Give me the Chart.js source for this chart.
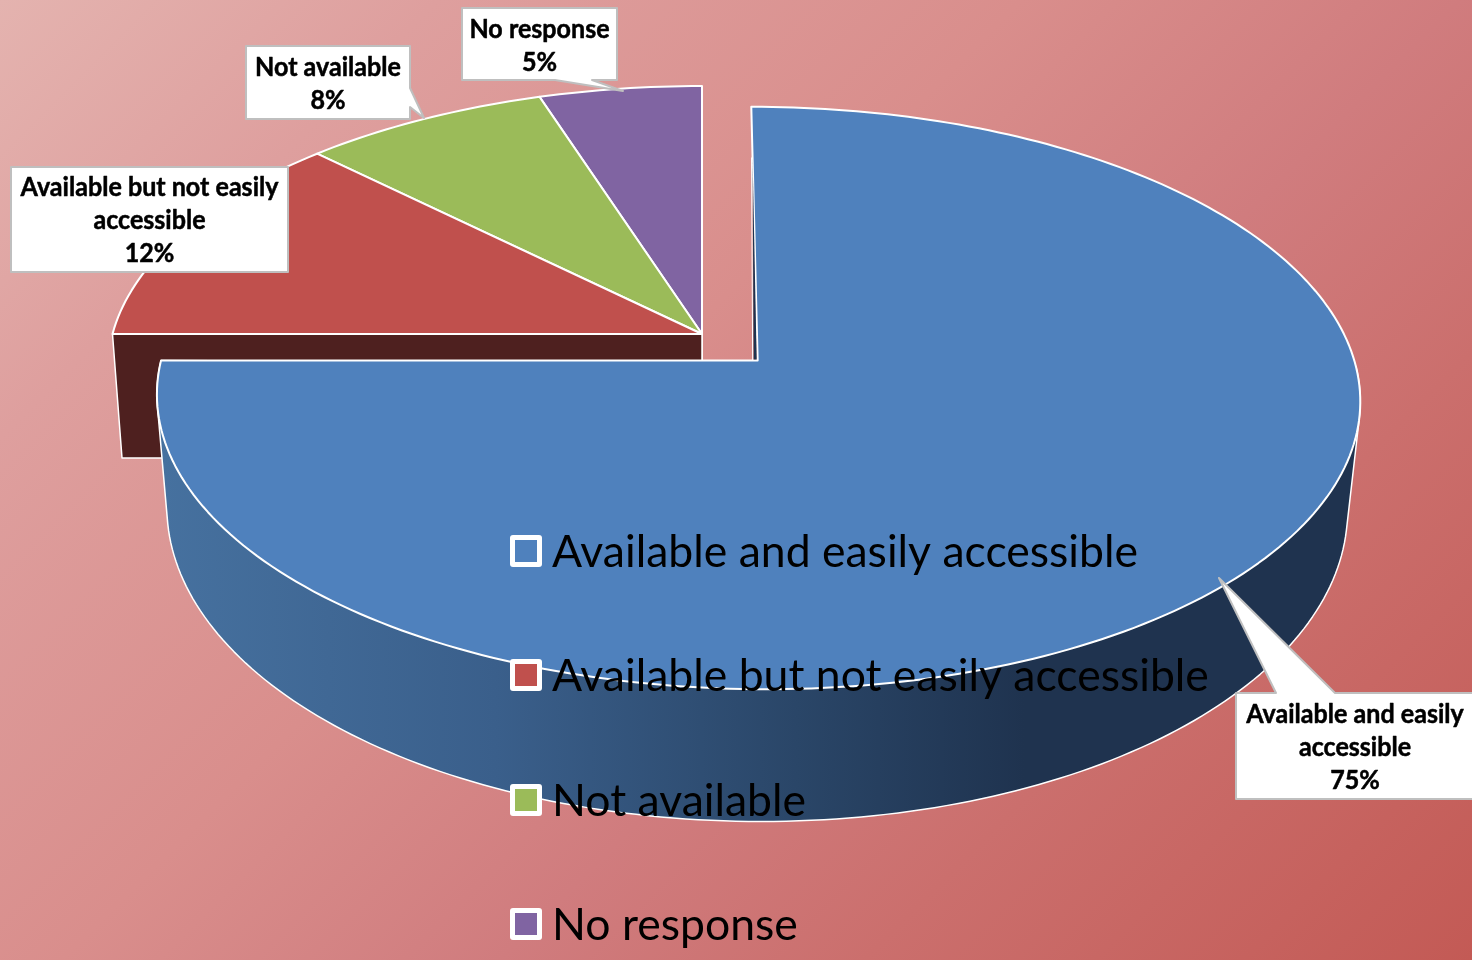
<!DOCTYPE html>
<html><head><meta charset="utf-8">
<style>html,body{margin:0;padding:0;background:#d98e8c;overflow:hidden}canvas{display:block}</style>
<script src="https://cdn.jsdelivr.net/npm/chart.js@4"></script>
</head><body>
<canvas id="c" width="1472" height="960"></canvas>
<script>
const categories = ['Available and easily accessible','Available but not easily accessible','Not available','No response'];
const shares = [75,12.4,7.6,5];
const sliceColors = ['#4f81bd','#c0504d','#9bbb59','#8064a2'];
const sideColors = ['#1f334f','#4e201f','#3e4b24','#332840'];
const explode = [200,0,0,0];

// perspective view of the pie plane: top face and bottom faces
const topFace = {x:702,y:334,bx:589.5,ay:279.6,c:-0.1276};
const lowFace = {x:702,y:458,bx:580,ay:307,c:-0.07};
const lowFaceFront = {x:702,y:458,bx:585,ay:307,c:-0.07};
function project(f,u,v){const d=1+f.c*v;return [f.x+f.bx*u/d,f.y+f.ay*v/d];}

function rim(el,f,from,to){
  const R=el.outerRadius,off=(el.options.offset||0)/4/R,mid=(el.startAngle+el.endAngle)/2;
  const ou=off*Math.cos(mid),ov=off*Math.sin(mid),pts=[];
  const a0=from===undefined?el.startAngle:from,a1=to===undefined?el.endAngle:to;
  const n=Math.ceil((a1-a0)/0.02);
  for(let i=0;i<=n;i++){const a=a0+(a1-a0)*i/n;pts.push(project(f,ou+Math.cos(a),ov+Math.sin(a)));}
  return {apex:project(f,ou,ov),pts};
}
function hull(points){
  const p=points.slice().sort((a,b)=>a[0]-b[0]||a[1]-b[1]);
  const cross=(o,a,b)=>(a[0]-o[0])*(b[1]-o[1])-(a[1]-o[1])*(b[0]-o[0]);
  const lo=[],up=[];
  p.forEach(q=>{while(lo.length>1&&cross(lo[lo.length-2],lo[lo.length-1],q)<=0)lo.pop();lo.push(q);});
  p.slice().reverse().forEach(q=>{while(up.length>1&&cross(up[up.length-2],up[up.length-1],q)<=0)up.pop();up.push(q);});
  return lo.slice(0,-1).concat(up.slice(0,-1));
}
function poly(ctx,pts,fill,stroke,w){
  ctx.beginPath();pts.forEach((p,i)=>i?ctx.lineTo(p[0],p[1]):ctx.moveTo(p[0],p[1]));ctx.closePath();
  ctx.lineJoin='round';
  if(fill){ctx.fillStyle=fill;ctx.fill();}
  if(stroke){ctx.strokeStyle=stroke;ctx.lineWidth=w;ctx.stroke();}
}
const pie3d={id:'pie3d',
  beforeDraw(chart){
    const ctx=chart.ctx,g=ctx.createLinearGradient(0,0,1216,1216);
    [[0,'#e4b3af'],[.18,'#de9f9e'],[.42,'#d98e8c'],[.6,'#d07c7e'],[.75,'#cb6f6d'],[1,'#c35a55']].forEach(s=>g.addColorStop(s[0],s[1]));
    ctx.fillStyle=g;ctx.fillRect(0,0,chart.width,chart.height);
  },
  beforeDatasetDraw(chart,args){
    const ctx=chart.ctx,els=args.meta.data;
    ctx.save();
    // cut faces, back to front
    for(let i=els.length-1;i>=0;i--){
      if(els[i].options.offset)continue;
      const t=rim(els[i],topFace),l=rim(els[i],lowFace);
      poly(ctx,[t.apex,t.pts[0],l.pts[0],l.apex],sideColors[i],'#ffffff',1.5);
    }
    // outer wall of the exploded slice (silhouette of top and bottom rims)
    els.forEach(el=>{
      if(!el.options.offset)return;
      const t=rim(el,topFace,0.02,el.endAngle),l=rim(el,lowFaceFront,0.02,el.endAngle);
      const g=ctx.createLinearGradient(160,0,1360,0);
      [[0,'#46719f'],[.28,'#3a5f8b'],[.53,'#2a4668'],[.72,'#1f334f'],[1,'#1f334f']].forEach(s=>g.addColorStop(s[0],s[1]));
      poly(ctx,hull(t.pts.concat(l.pts)),g,'#ffffff',1.5);
    });
    // top faces
    for(let i=els.length-1;i>=0;i--){
      const t=rim(els[i],topFace);
      poly(ctx,[t.apex].concat(t.pts),els[i].options.backgroundColor,'#ffffff',2);
      if(els[i].options.offset){
        // thin sliver of the inner cut face beside the 12 o'clock edge
        const A=t.pts[0],B=t.apex,S=[A[0]+(B[0]-A[0])*.2,A[1]+(B[1]-A[1])*.2];
        poly(ctx,[S,[B[0]-1,B[1]-1],[B[0]-4,B[1]-1]],sideColors[i]);
        ctx.strokeStyle='#ffffff';ctx.lineWidth=1;ctx.beginPath();ctx.moveTo(S[0]-1,S[1]);ctx.lineTo(B[0]-5,B[1]);ctx.stroke();
      }
    }
    ctx.restore();
    return false;
  },
  afterDraw(chart){
    const ctx=chart.ctx,labels=chart.data.labels,vals=chart.data.datasets[0].data,cols=chart.data.datasets[0].backgroundColor;
    ctx.save();
    // data callouts
    const boxes=[
      {r:[1236,693,240,106],cy:715},
      {r:[11,167,277,105],cy:188},
      {r:[246,46,164,73],cy:68},
      {r:[462,8,155,72],cy:30}
    ];
    ctx.font='bold 26px Lato';
    const tk=258/ctx.measureText('Available but not easily').width;
    boxes.forEach((b,i)=>{
      const [x,y,w,h]=b.r;let pts=[[x,y],[x+w,y],[x+w,y+h],[x,y+h]];
      if(i===0)pts=[[x,y],[1276,y],[1219,578],[1335,y],[x+w,y],[x+w,y+h],[x,y+h]];
      if(i===2)pts=[[x,y],[x+w,y],[x+w,88],[424,118],[x+w,107],[x+w,y+h],[x,y+h]];
      if(i===3)pts=[[x,y],[x+w,y],[x+w,y+h],[592,y+h],[623,91],[555,y+h],[x,y+h]];
      poly(ctx,pts,'#ffffff','#bfbfbf',2);
      ctx.fillStyle='#000';ctx.strokeStyle='#000';ctx.lineWidth=0.5;ctx.textAlign='center';ctx.textBaseline='middle';
      const cx=i===0?1355:x+w/2,words=labels[i].split(' ');let lines=[],cur='';
      words.forEach(wd=>{const t=cur?cur+' '+wd:wd;if(ctx.measureText(t).width>300&&cur){lines.push(cur);cur=wd;}else cur=t;});
      lines.push(cur);lines.push(Math.round(vals[i])+'%');
      lines.forEach((s,k)=>{const mw=ctx.measureText(s).width*tk;ctx.fillText(s,cx,b.cy+k*33,mw);ctx.strokeText(s,cx,b.cy+k*33,mw);});
    });
    // legend
    const rows=[551,675,800,924];
    ctx.font='45px Lato';ctx.textAlign='left';ctx.textBaseline='middle';
    const k=586/ctx.measureText(labels[0]).width;
    labels.forEach((s,i)=>{
      const y=rows[i];
      ctx.beginPath();ctx.roundRect(510,y-16,32,32,3);ctx.fillStyle='#fff';ctx.fill();
      ctx.fillStyle=cols[i];ctx.fillRect(515,y-11,22,22);
      ctx.fillStyle='#000';
      ctx.fillText(s,552,y+1,ctx.measureText(s).width*k);
    });
    ctx.restore();
  }
};
new Chart(document.getElementById('c'),{
  type:'pie',
  data:{labels:categories,datasets:[{data:shares,backgroundColor:sliceColors,offset:explode,borderColor:'#fff',borderWidth:2}]},
  options:{responsive:false,animation:false,layout:{padding:0},
    plugins:{legend:{display:false},tooltip:{enabled:false}}},
  plugins:[pie3d]
});
</script>
</body></html>
